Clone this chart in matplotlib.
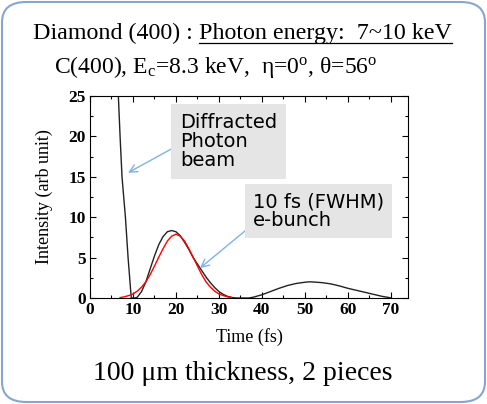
import matplotlib
matplotlib.use("Agg")
import matplotlib.pyplot as plt
from matplotlib.patches import FancyBboxPatch

plt.rcParams['mathtext.fontset'] = 'custom'
plt.rcParams['mathtext.rm'] = 'Liberation Serif'
plt.rcParams['mathtext.it'] = 'Liberation Serif:italic'

serif = 'Liberation Serif'
sans = 'DejaVu Sans'

# diffracted photon beam (black)
t_beam = [6.0, 6.6, 7.0, 7.45, 8.24, 8.86, 9.6, 10.5, 11, 12, 13, 14, 15, 16, 17, 18, 19,
          20, 21, 22, 23, 24, 25, 26, 27, 28, 29, 30, 31, 32, 33, 34, 37, 38, 40, 42,
          44, 46, 48, 50, 51, 52, 54, 56, 58, 60, 62, 64, 66, 68, 70]
i_beam = [31.0, 25.0, 20.0, 15.0, 10.0, 5.0, 0.0, 0.0, 0.1, 0.8, 2.0, 3.6, 5.2, 6.6, 7.6, 8.2, 8.35,
          8.2, 7.7, 6.9, 6.0, 5.0, 4.2, 3.4, 2.6, 1.9, 1.3, 0.8, 0.45, 0.2, 0.07, 0.0, 0.0, 0.1, 0.4, 0.8,
          1.2, 1.55, 1.8, 1.95, 2.0, 1.98, 1.9, 1.75, 1.5, 1.2, 0.95, 0.7, 0.45, 0.2, 0.02]

# 10 fs (FWHM) electron bunch (red)
t_bunch = [7, 8, 9, 10, 11, 12, 13, 14, 15, 16, 17, 18, 19, 20, 21, 22, 23, 24, 25, 26,
           27, 28, 29, 30, 31, 32, 33]
i_bunch = [0.05, 0.15, 0.3, 0.5, 0.85, 1.35, 2.0, 2.9, 3.95, 5.05, 6.1, 7.05, 7.65, 7.9, 7.65,
           7.05, 6.1, 5.05, 3.95, 2.9, 2.0, 1.35, 0.85, 0.5, 0.3, 0.15, 0.05]

x_ticks = [0, 10, 20, 30, 40, 50, 60, 70]
y_ticks = [0, 5, 10, 15, 20, 25]

W, H = 487, 404
fig = plt.figure(figsize=(W / 100, H / 100), dpi=100)

# rounded frame round the whole slide
frame = FancyBboxPatch((2 / W, 2 / H), 1 - 4 / W, 1 - 4 / H,
                       boxstyle="round,pad=0,rounding_size=0.05",
                       transform=fig.transFigure, fc='none', ec='#86a6d0', lw=1.5,
                       zorder=-1)
fig.patches.append(frame)

ax = fig.add_axes([90 / W, 1 - 298 / H, (408 - 90) / W, (298 - 96) / H])
ax.plot(t_beam, i_beam, color='#222222', lw=1.0)
ax.plot(t_bunch, i_bunch, color='red', lw=1.0)
ax.set_xlim(0, 74)
ax.set_ylim(0, 25)
ax.set_xticks(x_ticks)
ax.set_yticks(y_ticks)
ax.set_xticks(range(5, 75, 10), minor=True)
ax.set_yticks([2.5, 7.5, 12.5, 17.5, 22.5], minor=True)
ax.tick_params(which='both', direction='in', top=True, right=True, width=0.8)
ax.tick_params(which='major', length=4, labelsize=12.5, pad=3)
ax.tick_params(which='minor', length=2)
for lab in ax.get_xticklabels() + ax.get_yticklabels():
    lab.set_family(serif)
    lab.set_fontweight('bold')
for s in ax.spines.values():
    s.set_linewidth(0.8)
ax.set_xlabel('Time (fs)', family=serif, fontsize=13, labelpad=7)
ax.set_ylabel('Intensity (arb unit)', family=serif, fontsize=13, labelpad=11)

# callouts
ax.annotate('Diffracted\nPhoton\nbeam', xy=(8.85, 15.5), xytext=(20.9, 22.9),
            ha='left', va='top', family=sans, fontsize=14, linespacing=1.0,
            bbox=dict(boxstyle='square,pad=0.45', fc='#e5e5e5', ec='none'),
            arrowprops=dict(arrowstyle='->', color='#7fb2e5', lw=1.0,
                            shrinkA=0, shrinkB=0, relpos=(0, 0.45)))
ax.annotate('10 fs (FWHM)\ne-bunch', xy=(25.6, 3.7), xytext=(37.9, 13.1),
            ha='left', va='top', family=sans, fontsize=14, linespacing=1.0,
            bbox=dict(boxstyle='square,pad=0.4', fc='#e5e5e5', ec='none'),
            arrowprops=dict(arrowstyle='->', color='#7fb2e5', lw=1.0,
                            shrinkA=0, shrinkB=0, relpos=(0, 0.15)))

# headings
t1 = fig.text(33 / W, 1 - 33 / H, 'Diamond (400) : ', family=serif, fontsize=17.3,
              ha='left', va='center')
fig.canvas.draw()
bb = t1.get_window_extent()
t2 = fig.text(bb.x1 / W, 1 - 33 / H, 'Photon energy:  7~10 keV', family=serif,
              fontsize=17.3, ha='left', va='center')
fig.canvas.draw()
bb2 = t2.get_window_extent()
fig.add_artist(plt.Line2D([bb2.x0 / W, bb2.x1 / W], [1 - 43 / H, 1 - 43 / H],
                          transform=fig.transFigure, color='black', lw=0.9))

fig.text(216 / W, 1 - 67 / H,
         r'C(400), E$_\mathrm{c}$=8.3 keV,  $\mathrm{\eta}$=0$^\mathrm{o}$, $\mathrm{\theta}$=56$^\mathrm{o}$',
         family=serif, fontsize=17, ha='center', va='center')

fig.text(243 / W, 1 - 373 / H, '100 \u03bcm thickness, 2 pieces', family=serif,
         fontsize=20, ha='center', va='center')

fig.savefig('out.png', dpi=100)
